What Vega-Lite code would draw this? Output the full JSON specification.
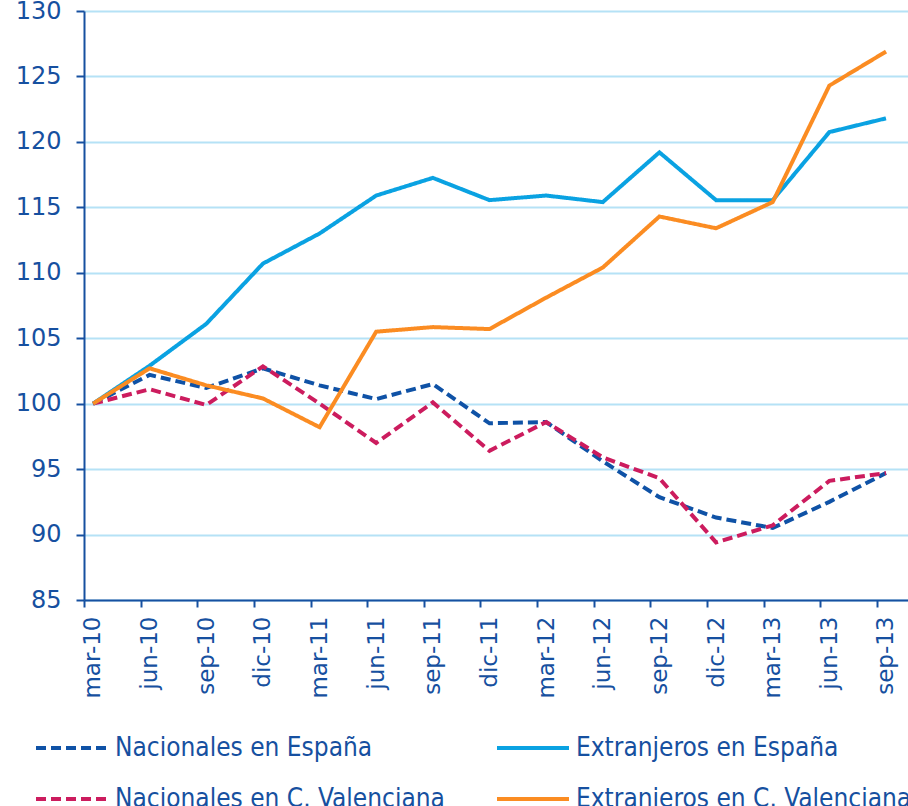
{
  "$schema": "https://vega.github.io/schema/vega-lite/v6.json",
  "width": 824,
  "height": 589,
  "autosize": {"type": "none"},
  "padding": {"left": 84, "top": 11, "right": 0, "bottom": 206},
  "background": "white",
  "config": {
    "view": {"stroke": null},
    "font": "DejaVu Sans"
  },
  "data": {
    "values": [
      {"periodo": "mar-10", "serie": "Nacionales en España", "valor": 100},
      {"periodo": "jun-10", "serie": "Nacionales en España", "valor": 102.2},
      {"periodo": "sep-10", "serie": "Nacionales en España", "valor": 101.2},
      {"periodo": "dic-10", "serie": "Nacionales en España", "valor": 102.7},
      {"periodo": "mar-11", "serie": "Nacionales en España", "valor": 101.4},
      {"periodo": "jun-11", "serie": "Nacionales en España", "valor": 100.35},
      {"periodo": "sep-11", "serie": "Nacionales en España", "valor": 101.5},
      {"periodo": "dic-11", "serie": "Nacionales en España", "valor": 98.5},
      {"periodo": "mar-12", "serie": "Nacionales en España", "valor": 98.6},
      {"periodo": "jun-12", "serie": "Nacionales en España", "valor": 95.6},
      {"periodo": "sep-12", "serie": "Nacionales en España", "valor": 92.85},
      {"periodo": "dic-12", "serie": "Nacionales en España", "valor": 91.3},
      {"periodo": "mar-13", "serie": "Nacionales en España", "valor": 90.5},
      {"periodo": "jun-13", "serie": "Nacionales en España", "valor": 92.5},
      {"periodo": "sep-13", "serie": "Nacionales en España", "valor": 94.7},
      {"periodo": "mar-10", "serie": "Nacionales en C. Valenciana", "valor": 100},
      {"periodo": "jun-10", "serie": "Nacionales en C. Valenciana", "valor": 101.1},
      {"periodo": "sep-10", "serie": "Nacionales en C. Valenciana", "valor": 99.9},
      {"periodo": "dic-10", "serie": "Nacionales en C. Valenciana", "valor": 102.85},
      {"periodo": "mar-11", "serie": "Nacionales en C. Valenciana", "valor": 100.0},
      {"periodo": "jun-11", "serie": "Nacionales en C. Valenciana", "valor": 97.0},
      {"periodo": "sep-11", "serie": "Nacionales en C. Valenciana", "valor": 100.1},
      {"periodo": "dic-11", "serie": "Nacionales en C. Valenciana", "valor": 96.4},
      {"periodo": "mar-12", "serie": "Nacionales en C. Valenciana", "valor": 98.6},
      {"periodo": "jun-12", "serie": "Nacionales en C. Valenciana", "valor": 95.9},
      {"periodo": "sep-12", "serie": "Nacionales en C. Valenciana", "valor": 94.3},
      {"periodo": "dic-12", "serie": "Nacionales en C. Valenciana", "valor": 89.4},
      {"periodo": "mar-13", "serie": "Nacionales en C. Valenciana", "valor": 90.7},
      {"periodo": "jun-13", "serie": "Nacionales en C. Valenciana", "valor": 94.1},
      {"periodo": "sep-13", "serie": "Nacionales en C. Valenciana", "valor": 94.7},
      {"periodo": "mar-10", "serie": "Extranjeros en España", "valor": 100},
      {"periodo": "jun-10", "serie": "Extranjeros en España", "valor": 102.9},
      {"periodo": "sep-10", "serie": "Extranjeros en España", "valor": 106.1},
      {"periodo": "dic-10", "serie": "Extranjeros en España", "valor": 110.7},
      {"periodo": "mar-11", "serie": "Extranjeros en España", "valor": 113.0},
      {"periodo": "jun-11", "serie": "Extranjeros en España", "valor": 115.9},
      {"periodo": "sep-11", "serie": "Extranjeros en España", "valor": 117.25},
      {"periodo": "dic-11", "serie": "Extranjeros en España", "valor": 115.55},
      {"periodo": "mar-12", "serie": "Extranjeros en España", "valor": 115.9},
      {"periodo": "jun-12", "serie": "Extranjeros en España", "valor": 115.4},
      {"periodo": "sep-12", "serie": "Extranjeros en España", "valor": 119.2},
      {"periodo": "dic-12", "serie": "Extranjeros en España", "valor": 115.55},
      {"periodo": "mar-13", "serie": "Extranjeros en España", "valor": 115.55},
      {"periodo": "jun-13", "serie": "Extranjeros en España", "valor": 120.75},
      {"periodo": "sep-13", "serie": "Extranjeros en España", "valor": 121.8},
      {"periodo": "mar-10", "serie": "Extranjeros en C. Valenciana", "valor": 100},
      {"periodo": "jun-10", "serie": "Extranjeros en C. Valenciana", "valor": 102.7},
      {"periodo": "sep-10", "serie": "Extranjeros en C. Valenciana", "valor": 101.4},
      {"periodo": "dic-10", "serie": "Extranjeros en C. Valenciana", "valor": 100.4},
      {"periodo": "mar-11", "serie": "Extranjeros en C. Valenciana", "valor": 98.2},
      {"periodo": "jun-11", "serie": "Extranjeros en C. Valenciana", "valor": 105.5},
      {"periodo": "sep-11", "serie": "Extranjeros en C. Valenciana", "valor": 105.85},
      {"periodo": "dic-11", "serie": "Extranjeros en C. Valenciana", "valor": 105.7},
      {"periodo": "mar-12", "serie": "Extranjeros en C. Valenciana", "valor": 108.1},
      {"periodo": "jun-12", "serie": "Extranjeros en C. Valenciana", "valor": 110.4},
      {"periodo": "sep-12", "serie": "Extranjeros en C. Valenciana", "valor": 114.3},
      {"periodo": "dic-12", "serie": "Extranjeros en C. Valenciana", "valor": 113.4},
      {"periodo": "mar-13", "serie": "Extranjeros en C. Valenciana", "valor": 115.4},
      {"periodo": "jun-13", "serie": "Extranjeros en C. Valenciana", "valor": 124.3},
      {"periodo": "sep-13", "serie": "Extranjeros en C. Valenciana", "valor": 126.9}
    ]
  },
  "mark": {"type": "line", "strokeWidth": 4, "strokeCap": "butt", "strokeJoin": "miter"},
  "encoding": {
    "x": {
      "field": "periodo",
      "type": "nominal",
      "sort": null,
      "scale": {
        "type": "point",
        "domain": ["mar-10","jun-10","sep-10","dic-10","mar-11","jun-11","sep-11","dic-11","mar-12","jun-12","sep-12","dic-12","mar-13","jun-13","sep-13"],
        "padding": 0.2737,
        "align": 0.29
      },
      "axis": {
        "title": null,
        "domainColor": "#1650a0",
        "domainWidth": 2,
        "tickColor": "#1650a0",
        "tickWidth": 2,
        "tickSize": 7,
        "tickOffset": -9,
        "labelOffset": 9,
        "labelAngle": -90,
        "labelFontSize": 23,
        "labelColor": "#1650a0",
        "labelPadding": 9,
        "grid": false
      }
    },
    "y": {
      "field": "valor",
      "type": "quantitative",
      "scale": {"domain": [85, 130], "nice": false, "zero": false},
      "axis": {
        "title": null,
        "values": [85, 90, 95, 100, 105, 110, 115, 120, 125, 130],
        "domainColor": "#1650a0",
        "domainWidth": 2,
        "tickColor": "#1650a0",
        "tickWidth": 2,
        "tickSize": 8,
        "labelFontSize": 24,
        "labelColor": "#1650a0",
        "labelPadding": 15,
        "grid": true,
        "gridColor": "#b5e2f6",
        "gridWidth": 2
      }
    },
    "color": {
      "field": "serie",
      "type": "nominal",
      "scale": {
        "domain": ["Nacionales en España", "Nacionales en C. Valenciana", "Extranjeros en España", "Extranjeros en C. Valenciana"],
        "range": ["#0f52a6", "#cc1c5e", "#0aa2e2", "#fb8c22"]
      },
      "legend": {
        "title": null,
        "orient": "none",
        "legendX": -50,
        "legendY": 699,
        "columns": 2,
        "columnPadding": 44,
        "rowPadding": -60,
        "symbolType": "stroke",
        "symbolSize": 5184,
        "symbolStrokeWidth": 4,
        "labelFont": "DejaVu Sans Condensed",
        "labelFontSize": 26,
        "labelColor": "#1650a0",
        "labelOffset": 5,
        "labelLimit": 600
      }
    },
    "strokeDash": {
      "field": "serie",
      "type": "nominal",
      "scale": {
        "domain": ["Nacionales en España", "Nacionales en C. Valenciana", "Extranjeros en España", "Extranjeros en C. Valenciana"],
        "range": [[10, 5], [10, 5], [1, 0], [1, 0]]
      },
      "legend": null
    }
  }
}
